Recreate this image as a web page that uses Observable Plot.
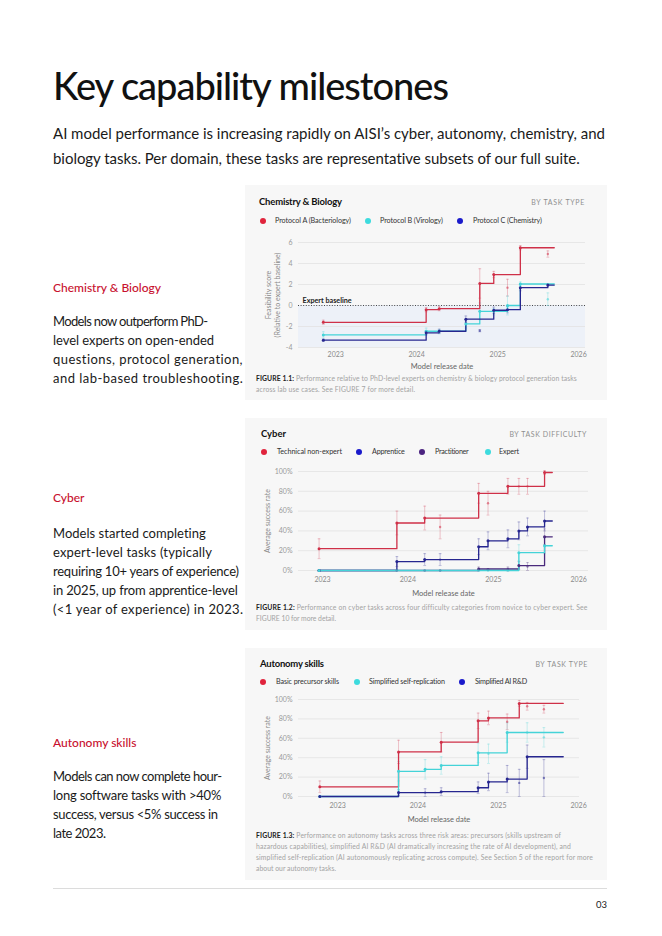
<!DOCTYPE html>
<html><head><meta charset="utf-8">
<script src="https://cdn.jsdelivr.net/npm/d3@7"></script>
<script src="https://cdn.jsdelivr.net/npm/@observablehq/plot@0.6"></script>
<style>
body{margin:0;background:#fff;font-family:Lato,sans-serif;}
#page{position:relative;width:662px;height:936px;overflow:hidden;background:#fff;}
.a{position:absolute;white-space:nowrap;}
.title{left:53px;top:63px;font-size:38px;font-weight:500;color:#111;line-height:44px;}
.sub{left:53px;font-size:15px;color:#1a1a1a;line-height:20px;}
.h{left:53px;font-size:12px;color:#c8102e;font-weight:500;line-height:16px;}
.p{left:53px;font-size:13px;color:#1a1a1a;line-height:19px;}
.card{left:245px;width:362px;background:#f7f7f7;}
.ct{font-size:9.5px;font-weight:700;color:#111;line-height:12px;}
.tag{font-size:7px;font-weight:400;color:#8f8f8f;line-height:12px;}
.leg{font-size:7.2px;color:#333;line-height:10px;}
.dot{position:absolute;width:6px;height:6px;border-radius:50%;}
.cap{font-size:6.8px;color:#a3a3a3;line-height:11px;}
.cap b{color:#222;font-weight:700;}
</style></head>
<body><div id="page"></div>
<script>
// ---------- DATA ----------
const pageTitle = "Key capability milestones";
const pageSub = ["AI model performance is increasing rapidly on AISI’s cyber, autonomy, chemistry, and",
                 "biology tasks. Per domain, these tasks are representative subsets of our full suite."];
const sideHeads = ["Chemistry & Biology", "Cyber", "Autonomy skills"];
const sideText = [
  ["Models now outperform PhD-", "level experts on open-ended", "questions, protocol generation,", "and lab-based troubleshooting."],
  ["Models started completing", "expert-level tasks (typically", "requiring 10+ years of experience)", "in 2025, up from apprentice-level", "(<1 year of experience) in 2023."],
  ["Models can now complete hour-", "long software tasks with >40%", "success, versus <5% success in", "late 2023."]
];
const sideWidths = [[155, 161, 190, 190], [153, 159, 186, 185, 190], [169, 168, 165, 53]];
const yearTicks = ["2023-01-01", "2024-01-01", "2025-01-01", "2026-01-01"];

// Chemistry & Biology
const chemNames = ["Protocol A (Bacteriology)", "Protocol B (Virology)", "Protocol C (Chemistry)"];
const chemDates = ["2022-11-06","2024-02-13","2024-04-12","2024-08-10","2024-10-12","2024-12-14","2025-02-14","2025-04-13","2025-08-15"];
const chemEnd = "2025-09-13";
const chemA = [-1.6, -0.4, -0.3, null, 2.1, 2.95, 1.7, 5.5, 4.9];
const chemAErr = [0.2, 0.2, 0.2, null, 1.4, 0.3, 0.8, 0.2, 0.3];
const chemB = [-2.8, -2.45, -2.5, -1.75, -0.55, -0.6, 0.0, 2.05, 0.6];
const chemBErr = [0.3, 0.3, 0.2, 0.4, 0.8, 0.3, 0.9, 0.2, 0.6];
const chemC = [-3.3, -2.6, -2.45, -1.3, -2.4, -0.45, -0.4, 1.7, 1.95];
const chemCErr = [0.1, 0.2, 0.2, 0.3, 0.1, 0.3, 0.3, 0.3, 0.1];
const chemTicks = [-4, -2, 0, 2, 4, 6];

// Cyber
const cyberNames = ["Technical non-expert", "Apprentice", "Practitioner", "Expert"];
const cyberDates = ["2022-12-17","2023-11-15","2024-03-13","2024-05-18","2024-10-30","2024-12-09","2025-03-04","2025-04-20","2025-05-27","2025-08-08"];
const cyberEnd = "2025-09-10";
const cyberNovice = [22, 48, 53, 44, 78, 68, 85, 85, 85, 99];
const cyberNoviceErr = [10, 12, 12, 12, 10, 12, 8, 8, 8, 2];
const cyberApprentice = [0, 9, 11, 11, 24, 30, 32, 40, 44, 50];
const cyberApprenticeErr = [0, 5, 6, 6, 8, 9, 9, 9, 9, 10];
const cyberPractitioner = [0, 0, 0, 0, 1.5, 1, 1.5, 5, 4, 34];
const cyberPractitionerErr = [0, 0, 0, 0, 2, 1, 2, 4, 4, 8];
const cyberExpert = [0, 0, 0, 0, 0, 0, 0, 18, null, 25];
const cyberExpertErr = [0, 0, 0, 0, 0, 0, 0, 8, null, 8];
const pctTicks = [0, 20, 40, 60, 80, 100];

// Autonomy
const autoNames = ["Basic precursor skills", "Simplified self-replication", "Simplified AI R&D"];
const autoDates = ["2022-10-12","2023-10-05","2024-02-03","2024-04-16","2024-10-01","2024-11-17","2025-02-10","2025-04-06","2025-05-12","2025-07-27"];
const autoEnd = "2025-10-23";
const autoBasic = [10, 46, null, 56, 78, 81, 77, 96, 93, 90];
const autoBasicErr = [6, 12, null, 10, 8, 7, 8, 3, 4, 4];
const autoRepl = [0, 26, 28, 32, 45, 44, 66, null, 66, 61];
const autoReplErr = [0, 10, 10, 9, 10, 10, 10, null, 10, 10];
const autoRnd = [0, 4, 4, 5, 9, 15, 18, 14, 41, 19];
const autoRndErr = [0, 3, 4, 4, 6, 9, 14, 14, 12, 19];

const captions = [
  [["FIGURE 1.1:", " Performance relative to PhD-level experts on chemistry & biology protocol generation tasks"], ["", "across lab use cases. See FIGURE 7 for more detail."]],
  [["FIGURE 1.2:", " Performance on cyber tasks across four difficulty categories from novice to cyber expert. See"], ["", "FIGURE 10 for more detail."]],
  [["FIGURE 1.3:", " Performance on autonomy tasks across three risk areas: precursors (skills upstream of"], ["", "hazardous capabilities), simplified AI R&D (AI dramatically increasing the rate of AI development), and"], ["", "simplified self-replication (AI autonomously replicating across compute). See Section 5 of the report for more"], ["", "about our autonomy tasks."]]
];

// ---------- STYLE ----------
const RED = "#e0243c", CYAN = "#3ddbde", BLUE = "#1a1acb", PURPLE = "#4b2480";
const LRED = "#cf3048", LCYAN = "#44d3d8", LBLUE = "#26268f", LPURPLE = "#4a2a7c";

const page = document.getElementById("page");
function el(cls, left, top, html, extra) {
  const d = document.createElement("div");
  d.className = "a " + cls;
  if (left != null) d.style.left = left + "px";
  d.style.top = top + "px";
  d.innerHTML = html;
  if (extra) Object.assign(d.style, extra);
  page.appendChild(d);
  return d;
}
function fit(d, w) { d.dataset.w = w; }
const esc = s => s.replace(/&/g, "&amp;").replace(/</g, "&lt;").replace(/>/g, "&gt;");

fit(el("title", null, 63, esc(pageTitle)), 396);
fit(el("sub", null, 123, esc(pageSub[0])), 552);
fit(el("sub", null, 148, esc(pageSub[1])), 527);

const headY = [280, 490, 735], paraY = [312, 524, 767];
sideHeads.forEach((h, i) => {
  el("h", null, headY[i], esc(h));
  sideText[i].forEach((t, j) => fit(el("p", null, paraY[i] + j * 19, esc(t)), sideWidths[i][j]));
});

// cards
const cards = [{top: 185, h: 215}, {top: 418, h: 212}, {top: 648, h: 232}];
cards.forEach(c => el("card", null, c.top, "", {height: c.h + "px"}));

function cardHead(title, tx, ty, tw, tag, tagRight, tagW, legY, legs) {
  fit(el("ct", tx, ty - 6, esc(title)), tw);
  const t = el("tag", null, ty - 6, esc(tag), {right: (662 - tagRight) + "px"});
  fit(t, tagW);
  legs.forEach(g => {
    const dd = document.createElement("div");
    dd.className = "dot";
    dd.style.left = (g.dx - 3) + "px"; dd.style.top = (legY - 3) + "px"; dd.style.background = g.c;
    page.appendChild(dd);
    fit(el("leg", g.tx, legY - 5, esc(g.name)), g.w);
  });
}
cardHead("Chemistry & Biology", 259, 202, 83, "BY TASK TYPE", 585, 53, 221, [
  {name: chemNames[0], c: RED, dx: 263, tx: 275, w: 76},
  {name: chemNames[1], c: CYAN, dx: 368, tx: 380, w: 63},
  {name: chemNames[2], c: BLUE, dx: 460, tx: 473, w: 69}]);
cardHead("Cyber", 261, 434, 25, "BY TASK DIFFICULTY", 587, 77, 452, [
  {name: cyberNames[0], c: RED, dx: 264, tx: 277, w: 65},
  {name: cyberNames[1], c: BLUE, dx: 359, tx: 372, w: 33},
  {name: cyberNames[2], c: PURPLE, dx: 422, tx: 435, w: 34},
  {name: cyberNames[3], c: CYAN, dx: 488, tx: 499, w: 20}]);
cardHead("Autonomy skills", 260, 664, 64, "BY TASK TYPE", 588, 52, 682, [
  {name: autoNames[0], c: RED, dx: 263, tx: 276, w: 63},
  {name: autoNames[1], c: CYAN, dx: 357, tx: 369, w: 76},
  {name: autoNames[2], c: BLUE, dx: 462, tx: 475, w: 52}]);

function caption(lines, top, widths) {
  lines.forEach((ln, i) => {
    const d = el("cap", 256, top + i * 11, (ln[0] ? "<b>" + esc(ln[0]) + "</b>" : "") + esc(ln[1]));
    fit(d, widths[i]);
  });
}
caption(captions[0], 373, [321, 159]);
caption(captions[1], 602, [331, 80]);
caption(captions[2], 830, [305, 315, 337, 80]);

// footer
el("", 53, 888, "", {width: "554px", height: "1px", background: "#dcdcdc"});
el("", 596, 899, "03", {fontSize: "9.5px", color: "#222", lineHeight: "12px"});

// ---------- CHARTS ----------
const capSym = {draw(ctx, size) { const r = Math.sqrt(size / Math.PI); ctx.moveTo(-r, 0); ctx.lineTo(r, 0); }};

function buildChart(o) {
  const marks = [];
  const grid = o.baseline ? o.yTicks.filter(t => t !== 0) : o.yTicks;
  if (o.baseline) {
    marks.push(Plot.rect([{x1: new Date(o.xDomain[0]), x2: new Date(o.xDomain[1]), y1: o.yDomain[0], y2: 0}],
      {x1: "x1", x2: "x2", y1: "y1", y2: "y2", fill: "#edf1f8"}));
  }
  marks.push(Plot.ruleY(grid, {stroke: "#e2e2e2", strokeWidth: 0.8}));
  if (o.baseline) {
    marks.push(Plot.ruleY([0], {stroke: "#333", strokeWidth: 0.9, strokeDasharray: "1,1.6"}));
    marks.push(Plot.text(["Expert baseline"], {frameAnchor: "left", y: () => 0, dx: 4, dy: -4.5, textAnchor: "start", lineAnchor: "middle", fontWeight: 700, fill: "#222", fontSize: 7.2}));
  }
  o.series.forEach(s => {
    const pts = [], front = [];
    let max = -Infinity;
    o.dates.forEach((d, i) => {
      const v = s.values[i];
      if (v == null) return;
      const date = new Date(d), e = s.err[i] || 0;
      const isF = v > max;
      if (isF) { max = v; front.push({date, value: v}); }
      pts.push({date, value: v, lo: v - e, hi: v + e, front: isF});
    });
    front.push({date: new Date(o.end), value: max});
    s.pts = pts; s.front = front;
  });
  o.series.forEach(s => {
    const eb = s.pts.filter(p => p.hi > p.lo);
    marks.push(Plot.ruleX(eb, {x: "date", y1: "lo", y2: "hi", stroke: s.line, strokeOpacity: 0.35, strokeWidth: 0.8}));
    marks.push(Plot.dot(eb, {x: "date", y: "lo", symbol: capSym, r: 1.4, stroke: s.line, strokeOpacity: 0.35, strokeWidth: 0.8}));
    marks.push(Plot.dot(eb, {x: "date", y: "hi", symbol: capSym, r: 1.4, stroke: s.line, strokeOpacity: 0.35, strokeWidth: 0.8}));
  });
  o.series.forEach(s => {
    marks.push(Plot.line(s.front, {x: "date", y: "value", curve: "step-after", stroke: s.line, strokeWidth: 1.3}));
  });
  o.series.forEach(s => {
    marks.push(Plot.dot(s.pts.filter(p => !p.front), {x: "date", y: "value", r: 1.2, fill: s.line, fillOpacity: 0.55}));
    marks.push(Plot.dot(s.pts.filter(p => p.front), {x: "date", y: "value", r: 1.5, fill: s.line}));
  });
  marks.push(Plot.axisY({ticks: o.yTicks, tickSize: 0, tickPadding: 6, tickFormat: o.yFmt, fill: "#9a9a9a", fontSize: 7}));
  marks.push(Plot.axisX({ticks: yearTicks.map(d => new Date(d)), tickSize: 0, tickPadding: o.tickPad, tickFormat: d3.utcFormat("%Y"), label: null, fill: "#8a8a8a", fontSize: 7}));
  marks.push(Plot.text(["Model release date"], {frameAnchor: "bottom", dy: o.labelDy, textAnchor: "middle", lineAnchor: "middle", fill: "#666", fontSize: 7.5}));
  marks.push(Plot.text([o.ylabel], {frameAnchor: "left", rotate: -90, dx: o.ylabelDx, textAnchor: "middle", lineAnchor: "middle", fill: "#8a8a8a", fontSize: 7, lineHeight: 1.3}));
  const svg = Plot.plot({
    width: o.width, height: o.height,
    marginLeft: o.ml, marginRight: o.mr, marginTop: o.mt, marginBottom: o.mb,
    x: {type: "utc", domain: o.xDomain.map(d => new Date(d))},
    y: {domain: o.yDomain},
    style: {fontFamily: "Lato, sans-serif", background: "transparent", overflow: "visible"},
    marks
  });
  svg.style.position = "absolute";
  svg.style.left = o.left + "px";
  svg.style.top = o.top + "px";
  page.appendChild(svg);
}

buildChart({
  left: 250, top: 235, width: 350, height: 142, ml: 48, mr: 15, mt: 7, mb: 30,
  xDomain: ["2022-07-17", "2026-02-01"], yDomain: [-4, 6], yTicks: chemTicks, yFmt: d => d,
  dates: chemDates, end: chemEnd, baseline: true, tickPad: 4.5, labelDy: 19.5,
  ylabel: "Feasibility score\n(Relative to expert baseline)", ylabelDx: -26,
  series: [
    {values: chemA, err: chemAErr, line: LRED},
    {values: chemB, err: chemBErr, line: LCYAN},
    {values: chemC, err: chemCErr, line: LBLUE}]
});
buildChart({
  left: 250, top: 464, width: 350, height: 136, ml: 48, mr: 12, mt: 7, mb: 30,
  xDomain: ["2022-09-20", "2026-02-12"], yDomain: [0, 100], yTicks: pctTicks, yFmt: d => d + "%",
  dates: cyberDates, end: cyberEnd, baseline: false, tickPad: 7, labelDy: 23.5,
  ylabel: "Average success rate", ylabelDx: -31,
  series: [
    {values: cyberNovice, err: cyberNoviceErr, line: LRED},
    {values: cyberApprentice, err: cyberApprenticeErr, line: LBLUE},
    {values: cyberPractitioner, err: cyberPractitionerErr, line: LPURPLE},
    {values: cyberExpert, err: cyberExpertErr, line: LCYAN}]
});
buildChart({
  left: 250, top: 692, width: 350, height: 134, ml: 48, mr: 21, mt: 7, mb: 30,
  xDomain: ["2022-07-07", "2026-01-05"], yDomain: [0, 100], yTicks: pctTicks, yFmt: d => d + "%",
  dates: autoDates, end: autoEnd, baseline: false, tickPad: 7, labelDy: 23,
  ylabel: "Average success rate", ylabelDx: -31,
  series: [
    {values: autoBasic, err: autoBasicErr, line: LRED},
    {values: autoRepl, err: autoReplErr, line: LCYAN},
    {values: autoRnd, err: autoRndErr, line: LBLUE}]
});

// fit text widths via letter-spacing
document.querySelectorAll("[data-w]").forEach(d => {
  const target = +d.dataset.w;
  const w = d.getBoundingClientRect().width;
  const n = d.textContent.length;
  if (n > 1) d.style.letterSpacing = ((target - w) / (n - 1)) + "px";
});
</script></body></html>
